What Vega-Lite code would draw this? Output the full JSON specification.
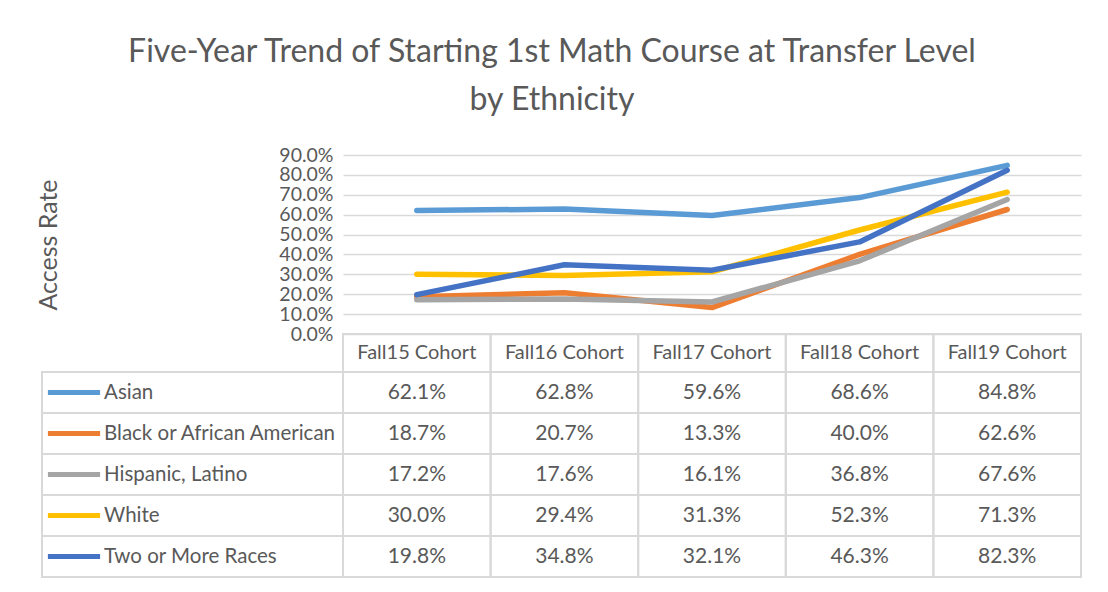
{
  "$schema": "https://vega.github.io/schema/vega-lite/v6.json",
  "background": "white",
  "padding": {"left": 36, "top": 36, "right": 5, "bottom": 5},
  "config": {"view": {"stroke": null}, "font": "Lato"},
  "title": {
    "text": ["Five-Year Trend of Starting 1st Math Course at Transfer Level", "by Ethnicity"],
    "fontSize": 32, "font": "Lato", "fontWeight": "normal", "color": "#595959",
    "lineHeight": 48, "anchor": "middle", "offset": 28, "dx": -7
  },
  "datasets": {
    "series": [
      {"ethnicity": "Asian"},
      {"ethnicity": "Black or African American"},
      {"ethnicity": "Hispanic, Latino"},
      {"ethnicity": "White"},
      {"ethnicity": "Two or More Races"}
    ],
    "cohorts": [
      {"cohort": "Fall15 Cohort"},
      {"cohort": "Fall16 Cohort"},
      {"cohort": "Fall17 Cohort"},
      {"cohort": "Fall18 Cohort"},
      {"cohort": "Fall19 Cohort"}
    ],
    "rates": [
      {"ethnicity": "Asian", "cohort": "Fall15 Cohort", "rate": 0.621},
      {"ethnicity": "Asian", "cohort": "Fall16 Cohort", "rate": 0.628},
      {"ethnicity": "Asian", "cohort": "Fall17 Cohort", "rate": 0.596},
      {"ethnicity": "Asian", "cohort": "Fall18 Cohort", "rate": 0.686},
      {"ethnicity": "Asian", "cohort": "Fall19 Cohort", "rate": 0.848},
      {"ethnicity": "Black or African American", "cohort": "Fall15 Cohort", "rate": 0.187},
      {"ethnicity": "Black or African American", "cohort": "Fall16 Cohort", "rate": 0.207},
      {"ethnicity": "Black or African American", "cohort": "Fall17 Cohort", "rate": 0.133},
      {"ethnicity": "Black or African American", "cohort": "Fall18 Cohort", "rate": 0.400},
      {"ethnicity": "Black or African American", "cohort": "Fall19 Cohort", "rate": 0.626},
      {"ethnicity": "Hispanic, Latino", "cohort": "Fall15 Cohort", "rate": 0.172},
      {"ethnicity": "Hispanic, Latino", "cohort": "Fall16 Cohort", "rate": 0.176},
      {"ethnicity": "Hispanic, Latino", "cohort": "Fall17 Cohort", "rate": 0.161},
      {"ethnicity": "Hispanic, Latino", "cohort": "Fall18 Cohort", "rate": 0.368},
      {"ethnicity": "Hispanic, Latino", "cohort": "Fall19 Cohort", "rate": 0.676},
      {"ethnicity": "White", "cohort": "Fall15 Cohort", "rate": 0.300},
      {"ethnicity": "White", "cohort": "Fall16 Cohort", "rate": 0.294},
      {"ethnicity": "White", "cohort": "Fall17 Cohort", "rate": 0.313},
      {"ethnicity": "White", "cohort": "Fall18 Cohort", "rate": 0.523},
      {"ethnicity": "White", "cohort": "Fall19 Cohort", "rate": 0.713},
      {"ethnicity": "Two or More Races", "cohort": "Fall15 Cohort", "rate": 0.198},
      {"ethnicity": "Two or More Races", "cohort": "Fall16 Cohort", "rate": 0.348},
      {"ethnicity": "Two or More Races", "cohort": "Fall17 Cohort", "rate": 0.321},
      {"ethnicity": "Two or More Races", "cohort": "Fall18 Cohort", "rate": 0.463},
      {"ethnicity": "Two or More Races", "cohort": "Fall19 Cohort", "rate": 0.823}
    ]
  },
  "columns": 2,
  "spacing": 0,
  "bounds": "flush",
  "resolve": {"scale": {"x": "independent", "y": "independent", "color": "independent"}},
  "concat": [
    {"data": {"values": []}, "mark": "rect", "width": 301, "height": 179},
    {
      "width": 738, "height": 179,
      "data": {"name": "rates"},
      "mark": {"type": "line", "strokeWidth": 5.5, "strokeCap": "round", "strokeJoin": "round"},
      "encoding": {
        "x": {"field": "cohort", "type": "ordinal",
              "scale": {"type": "point", "padding": 0.5, "domain": ["Fall15 Cohort", "Fall16 Cohort", "Fall17 Cohort", "Fall18 Cohort", "Fall19 Cohort"]},
              "axis": null},
        "y": {"field": "rate", "type": "quantitative",
              "scale": {"domain": [0, 0.9], "nice": false},
              "axis": {
                "values": [0, 0.1, 0.2, 0.3, 0.4, 0.5, 0.6, 0.7, 0.8, 0.9],
                "format": ".1%", "title": "Access Rate",
                "grid": true, "gridColor": "#d9d9d9", "gridWidth": 1.5,
                "domain": false, "ticks": false, "labelPadding": 10,
                "labelFontSize": 19.5, "labelColor": "#595959", "labelFont": "Lato",
                "labelOverlap": false, "labelBaseline": "middle",
                "titleFont": "Lato", "titleFontSize": 25, "titleFontWeight": "normal", "titleColor": "#595959",
                "titleX": -295, "titleY": 89.5, "titleAngle": -90, "titleAlign": "center", "titleBaseline": "middle"
              }},
        "color": {"field": "ethnicity", "type": "nominal",
                  "scale": {"domain": ["Asian", "Black or African American", "Hispanic, Latino", "White", "Two or More Races"],
                            "range": ["#5B9BD5", "#ED7D31", "#A5A5A5", "#FFC000", "#4472C4"]},
                  "legend": {
                    "orient": "none", "legendX": -289.5, "legendY": 217, "title": null,
                    "symbolType": "M-1.45,0H1.45", "symbolSize": 1296, "symbolStrokeWidth": 5,
                    "labelFontSize": 20.5, "labelColor": "#595959", "labelFont": "Lato",
                    "labelOffset": 9.5, "rowPadding": 10, "columns": 1, "labelLimit": 400
                  }}
      }
    },
    {"data": {"values": []}, "mark": "rect", "width": 301, "height": 38},
    {
      "width": 738, "height": 38,
      "data": {"name": "cohorts"},
      "encoding": {
        "x": {"field": "cohort", "type": "nominal",
              "scale": {"domain": ["Fall15 Cohort", "Fall16 Cohort", "Fall17 Cohort", "Fall18 Cohort", "Fall19 Cohort"], "paddingInner": 0, "paddingOuter": 0},
              "axis": null}
      },
      "layer": [
        {"mark": {"type": "rect", "filled": false, "color": "#d9d9d9", "strokeWidth": 2}},
        {"mark": {"type": "text", "fontSize": 20, "color": "#595959", "font": "Lato", "baseline": "middle"},
         "encoding": {"text": {"field": "cohort"}}}
      ]
    },
    {
      "width": 301, "height": 205,
      "data": {"name": "series"},
      "mark": {"type": "rect", "filled": false, "color": "#d9d9d9", "strokeWidth": 2},
      "encoding": {
        "y": {"field": "ethnicity", "type": "nominal",
              "scale": {"domain": ["Asian", "Black or African American", "Hispanic, Latino", "White", "Two or More Races"], "paddingInner": 0, "paddingOuter": 0},
              "axis": null}
      }
    },
    {
      "width": 738, "height": 205,
      "data": {"name": "rates"},
      "encoding": {
        "x": {"field": "cohort", "type": "nominal",
              "scale": {"domain": ["Fall15 Cohort", "Fall16 Cohort", "Fall17 Cohort", "Fall18 Cohort", "Fall19 Cohort"], "paddingInner": 0, "paddingOuter": 0},
              "axis": null},
        "y": {"field": "ethnicity", "type": "nominal",
              "scale": {"domain": ["Asian", "Black or African American", "Hispanic, Latino", "White", "Two or More Races"], "paddingInner": 0, "paddingOuter": 0},
              "axis": null}
      },
      "layer": [
        {"mark": {"type": "rect", "filled": false, "color": "#d9d9d9", "strokeWidth": 2}},
        {"mark": {"type": "text", "fontSize": 21, "color": "#595959", "font": "Lato", "baseline": "middle"},
         "encoding": {"text": {"field": "rate", "type": "quantitative", "format": ".1%"}}}
      ]
    }
  ]
}
